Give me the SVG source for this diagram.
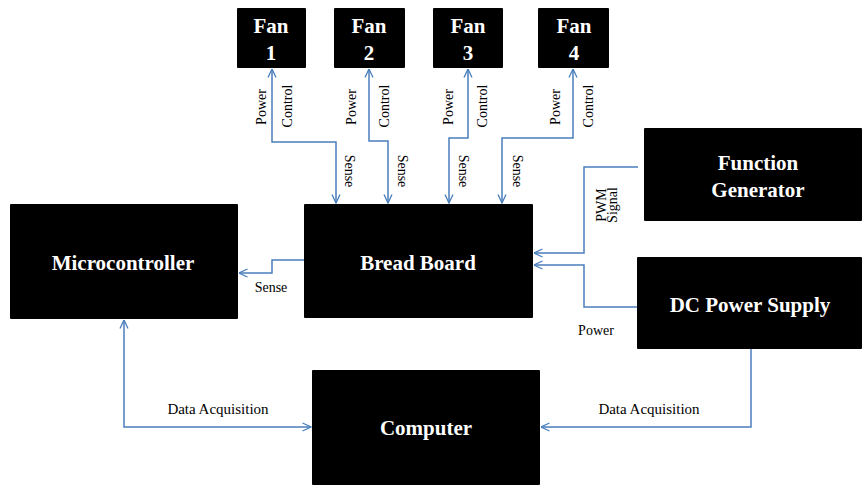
<svg xmlns="http://www.w3.org/2000/svg" width="862" height="485" viewBox="0 0 862 485">
<defs>
<style>
.box{fill:#000}
.t{font-family:'Liberation Serif','Times New Roman',serif;font-weight:bold;font-size:21px;fill:#fff;text-anchor:middle}
.l{font-family:'Liberation Serif','Times New Roman',serif;font-size:14px;fill:#000;text-anchor:middle}
.d{font-size:15px}
.c{fill:none;stroke:#4a7ebb;stroke-width:1.5}
</style>
<marker id="ah" viewBox="0 0 10 10" refX="9.5" refY="5" markerWidth="10" markerHeight="10" markerUnits="userSpaceOnUse" orient="auto-start-reverse">
<path d="M1,1 L9.5,5 L1,9" fill="none" stroke="#4a7ebb" stroke-width="1.3"/>
</marker>
</defs>
<rect width="862" height="485" fill="#fff"/>

<g id="fan1"><rect class="box" x="237" y="8" width="69" height="60" rx="1"/><text class="t" x="271" y="33">Fan</text><text class="t" x="271" y="60">1</text></g>
<g id="fan2"><rect class="box" x="334" y="8" width="71" height="60" rx="1"/><text class="t" x="369" y="33">Fan</text><text class="t" x="369" y="60">2</text></g>
<g id="fan3"><rect class="box" x="433" y="8" width="70" height="60" rx="1"/><text class="t" x="468" y="33">Fan</text><text class="t" x="468" y="60">3</text></g>
<g id="fan4"><rect class="box" x="538" y="8" width="71" height="60" rx="1"/><text class="t" x="574" y="33">Fan</text><text class="t" x="574" y="60">4</text></g>

<g id="microcontroller"><rect class="box" x="10" y="204" width="228" height="115" rx="1"/><text class="t" x="123" y="270">Microcontroller</text></g>
<g id="breadboard"><rect class="box" x="304" y="204" width="229" height="114" rx="1"/><text class="t" x="418" y="270">Bread Board</text></g>
<g id="functiongenerator"><rect class="box" x="644" y="128" width="218" height="93" rx="1"/><text class="t" x="758" y="170">Function</text><text class="t" x="758" y="197">Generator</text></g>
<g id="dcpowersupply"><rect class="box" x="637" y="257" width="225" height="92" rx="1"/><text class="t" x="750" y="312">DC Power Supply</text></g>
<g id="computer"><rect class="box" x="312" y="370" width="228" height="115" rx="1"/><text class="t" x="426" y="435">Computer</text></g>

<g id="connectors">
<path class="c" d="M272,69 V142 H336 V203" marker-start="url(#ah)" marker-end="url(#ah)"/>
<path class="c" d="M369,69 V141 H388 V203" marker-start="url(#ah)" marker-end="url(#ah)"/>
<path class="c" d="M468,69 V138 H449 V203" marker-start="url(#ah)" marker-end="url(#ah)"/>
<path class="c" d="M573,69 V138 H502 V203" marker-start="url(#ah)" marker-end="url(#ah)"/>
<path class="c" d="M304,260 H272 V273 H239" marker-end="url(#ah)"/>
<path class="c" d="M638,167 H584 V253 H534" marker-end="url(#ah)"/>
<path class="c" d="M637,307 H584 V265 H534" marker-end="url(#ah)"/>
<path class="c" d="M124,320 V427 H311" marker-start="url(#ah)" marker-end="url(#ah)"/>
<path class="c" d="M751,349 V427 H541" marker-end="url(#ah)"/>
</g>

<g id="labels">
<text class="l" transform="translate(266,107) rotate(-90)">Power</text>
<text class="l" transform="translate(292,106) rotate(-90)">Control</text>
<text class="l" transform="translate(345,171) rotate(90)">Sense</text>
<text class="l" transform="translate(356,107) rotate(-90)">Power</text>
<text class="l" transform="translate(389,106) rotate(-90)">Control</text>
<text class="l" transform="translate(398,171) rotate(90)">Sense</text>
<text class="l" transform="translate(453,107) rotate(-90)">Power</text>
<text class="l" transform="translate(487,106) rotate(-90)">Control</text>
<text class="l" transform="translate(459,171) rotate(90)">Sense</text>
<text class="l" transform="translate(560,107) rotate(-90)">Power</text>
<text class="l" transform="translate(593,106) rotate(-90)">Control</text>
<text class="l" transform="translate(513,171) rotate(90)">Sense</text>
<text class="l" transform="translate(606,205) rotate(-90)">PWM</text>
<text class="l" transform="translate(617,205) rotate(-90)">Signal</text>
<text class="l" x="271" y="292">Sense</text>
<text class="l" x="596" y="335">Power</text>
<text class="l d" x="218" y="414">Data Acquisition</text>
<text class="l d" x="649" y="414">Data Acquisition</text>
</g>
</svg>
